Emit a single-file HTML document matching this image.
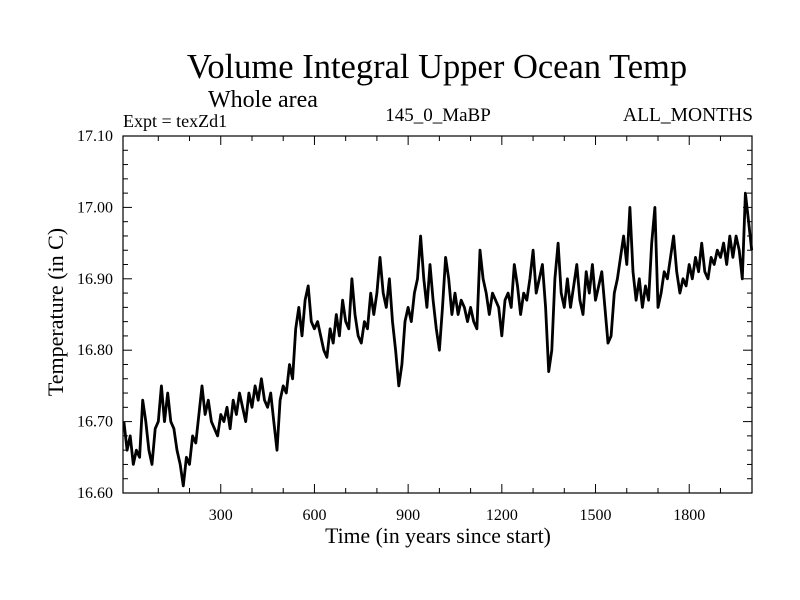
<!DOCTYPE html>
<html><head><meta charset="utf-8"><style>
body{margin:0;background:#fff}
svg{display:block}
text{font-family:"Liberation Serif",serif;fill:#000}
</style></head><body>
<svg id="chart" width="800" height="600">
<text x="437" y="78" font-size="34.5" text-anchor="middle">Volume Integral Upper Ocean Temp</text>
<text x="208" y="107" font-size="24">Whole area</text>
<text x="123" y="127" font-size="18">Expt = texZd1</text>
<text x="438" y="121" font-size="19" text-anchor="middle">145_0_MaBP</text>
<text x="753" y="121" font-size="19.5" text-anchor="end">ALL_MONTHS</text>
<text x="438" y="543" font-size="21.7" text-anchor="middle">Time (in years since start)</text>
<text transform="translate(63,312) rotate(-90)" font-size="22" text-anchor="middle">Temperature (in C)</text>
<g id="axes"></g>
<rect x="123" y="136" width="629" height="357" fill="none" stroke="#000" stroke-width="1.2"/>
</svg>
<script>
const years = [];
for (let y = -10; y <= 2000; y += 10) years.push(y);
const temps = [16.70,16.66,16.68,16.64,16.66,16.65,16.73,16.70,16.66,16.64,16.69,16.70,16.75,16.70,16.74,16.70,16.69,16.66,16.64,16.61,16.65,16.64,16.68,16.67,16.71,16.75,16.71,16.73,16.70,16.69,16.68,16.71,16.70,16.72,16.69,16.73,16.71,16.74,16.72,16.70,16.74,16.72,16.75,16.73,16.76,16.73,16.72,16.74,16.70,16.66,16.73,16.75,16.74,16.78,16.76,16.83,16.86,16.82,16.87,16.89,16.84,16.83,16.84,16.82,16.80,16.79,16.83,16.81,16.85,16.82,16.87,16.84,16.83,16.90,16.85,16.82,16.81,16.84,16.83,16.88,16.85,16.88,16.93,16.88,16.86,16.90,16.84,16.80,16.75,16.78,16.84,16.86,16.84,16.88,16.90,16.96,16.90,16.86,16.92,16.87,16.83,16.80,16.86,16.93,16.90,16.85,16.88,16.85,16.87,16.86,16.84,16.86,16.84,16.83,16.94,16.90,16.88,16.85,16.88,16.87,16.86,16.82,16.87,16.88,16.86,16.92,16.89,16.85,16.88,16.87,16.90,16.94,16.88,16.90,16.92,16.86,16.77,16.80,16.90,16.95,16.88,16.86,16.90,16.86,16.89,16.92,16.87,16.85,16.91,16.88,16.92,16.87,16.89,16.91,16.86,16.81,16.82,16.88,16.90,16.93,16.96,16.92,17.00,16.91,16.87,16.90,16.86,16.89,16.87,16.95,17.00,16.86,16.88,16.91,16.90,16.93,16.96,16.91,16.88,16.90,16.89,16.92,16.90,16.93,16.91,16.95,16.91,16.90,16.93,16.92,16.94,16.93,16.95,16.92,16.96,16.93,16.96,16.94,16.90,17.02,16.98,16.94];
const xTickLabels = [300,600,900,1200,1500,1800];
const yTickLabels = ["16.60","16.70","16.80","16.90","17.00","17.10"];

const L=123,R=752,T=136,B=493, X0=-13, X1=2001, Y0=16.6, Y1=17.1;
const sx = v => L + (v - X0) / (X1 - X0) * (R - L);
const sy = v => B - (v - Y0) / (Y1 - Y0) * (B - T);
const NS='http://www.w3.org/2000/svg';
const g = document.getElementById('axes');
function mk(tag, attrs){const e=document.createElementNS(NS,tag);for(const k in attrs)e.setAttribute(k,attrs[k]);g.appendChild(e);return e;}

for (let yr = 100; yr <= 1900; yr += 100) {
  const major = yr % 300 === 0, len = major ? 9 : 5, x = sx(yr);
  const t1 = mk('line',{x1:x,x2:x,y1:B,y2:B-len,stroke:'#000','stroke-width':1});
  
  
  const t2 = mk('line',{x1:x,x2:x,y1:T,y2:T+len,stroke:'#000','stroke-width':1});
  
  
}
xTickLabels.forEach(v => {
  const t = mk('text',{x:sx(v),y:520,'font-size':16,'text-anchor':'middle'});
  t.textContent = v;
  
  
});
for (let i = 1; i < 25; i++) {
  const v = Y0 + i*0.02, major = i % 5 === 0, len = major ? 9 : 5, y = sy(v);
  const t1 = mk('line',{x1:L,x2:L+len,y1:y,y2:y,stroke:'#000','stroke-width':1});
  
  
  const t2 = mk('line',{x1:R,x2:R-len,y1:y,y2:y,stroke:'#000','stroke-width':1});
  
  
}
yTickLabels.forEach(s => {
  const t = mk('text',{x:113,y:sy(parseFloat(s))+5,'font-size':16,'text-anchor':'end'});
  t.textContent = s;
  
  
});
let d = '';
years.forEach((yr,i) => { d += (i ? 'L' : 'M') + sx(yr).toFixed(1) + ',' + sy(temps[i]).toFixed(1); });
const p = mk('path',{d:d,fill:'none',stroke:'#000','stroke-width':2.8,'stroke-linejoin':'round'});


</script>
</body></html>
